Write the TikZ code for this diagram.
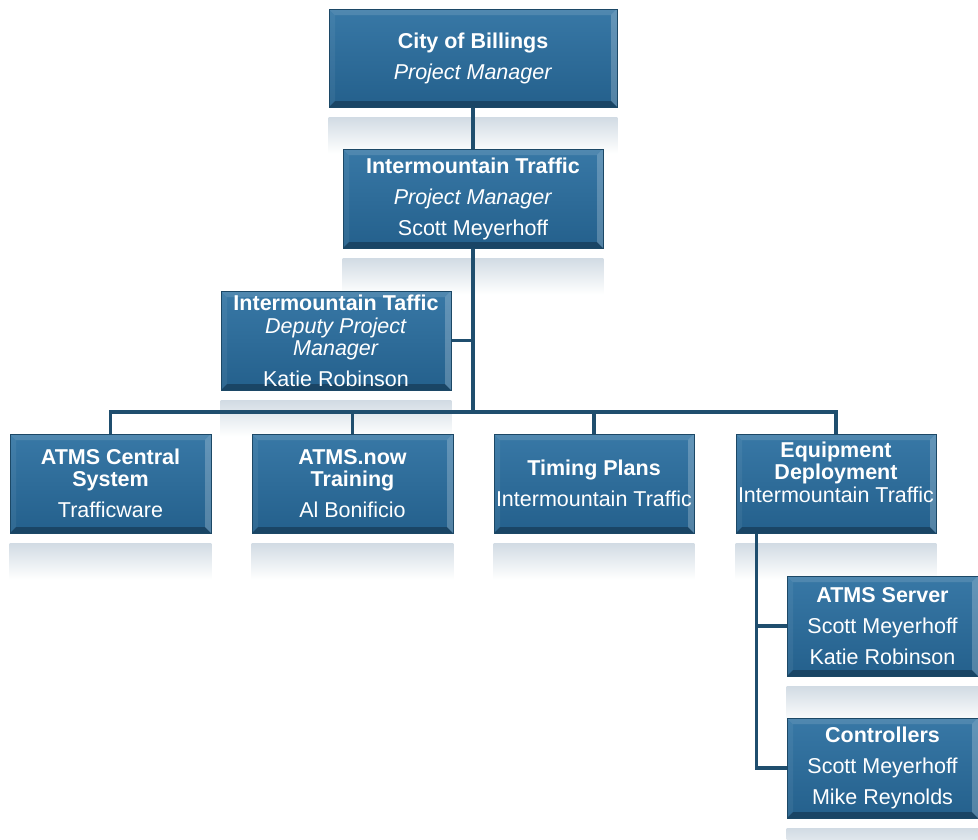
\documentclass[tikz,border=0pt]{standalone}
\usepackage{fontspec}
\setmainfont{Liberation Sans}
\usetikzlibrary{calc}
\definecolor{boxtop}{HTML}{3878A6}
\definecolor{boxbot}{HTML}{24608C}
\definecolor{boxedge}{HTML}{1C4866}
\definecolor{linec}{HTML}{1F4E6E}
\definecolor{refl}{HTML}{D2DBE4}
\pgfdeclarelayer{bg}
\pgfdeclarelayer{mid}
\pgfsetlayers{bg,mid,main}
\tikzset{
  orgbox/.style={draw=boxedge, line width=0.8pt, top color=boxtop, bottom color=boxbot,
    text=white, align=center, font=\fontsize{21.5}{23}\selectfont, inner sep=0pt,
    path picture={
      \coordinate (bvnw) at (path picture bounding box.north west);
      \coordinate (bvne) at (path picture bounding box.north east);
      \coordinate (bvsw) at (path picture bounding box.south west);
      \coordinate (bvse) at (path picture bounding box.south east);
      \fill[white, opacity=0.12] (bvnw) -- (bvne) -- ($(bvne)+(-6,6)$) -- ($(bvnw)+(6,6)$) -- cycle;
      \fill[white, opacity=0.06] (bvnw) -- ($(bvnw)+(6,6)$) -- ($(bvsw)+(6,-6)$) -- (bvsw) -- cycle;
      \fill[white, opacity=0.22] (bvne) -- ($(bvne)+(-6,6)$) -- ($(bvse)+(-6,-6)$) -- (bvse) -- cycle;
      \fill[black, opacity=0.28] (bvsw) -- ($(bvsw)+(6,-6)$) -- ($(bvse)+(-6,-6)$) -- (bvse) -- cycle;
    }},
  conn/.style={draw=linec, line width=3.2pt},
  reflbox/.style={top color=refl, bottom color=white, draw=none},
  boxtext/.style={text=white, align=center, font=\fontsize{21.5}{23}\selectfont, inner sep=0pt},
}
\newcommand{\mkrefl}[1]{%
  \begin{pgfonlayer}{bg}
    \fill[reflbox] ($(#1.south west)+(0,10)$) rectangle ($(#1.south east)+(0,46)$);
  \end{pgfonlayer}}
\begin{document}
\begin{tikzpicture}[x=1pt, y=-1pt]
\begin{pgfonlayer}{bg}
\fill[white] (0,0) rectangle (978,839);
\end{pgfonlayer}
\useasboundingbox (0,0) rectangle (978,839);

\node[orgbox, minimum width=288pt, minimum height=98pt] (city) at (473,58)
  {\textbf{City of Billings}\\[8pt]\textit{Project Manager}};
\node[orgbox, minimum width=260pt, minimum height=99pt] (it) at (473,198.5)
  {\textbf{Intermountain Traffic}\\[8pt]\textit{Project Manager}\\[8pt]Scott Meyerhoff};
\node[orgbox, minimum width=230pt, minimum height=99pt] (deputy) at (336,340.5)
  {\textbf{Intermountain Taffic}\\\textit{Deputy Project}\\[-1pt]\textit{Manager}\\[8pt]Katie Robinson};
\node[orgbox, minimum width=201pt, minimum height=99pt] (central) at (110.5,483.5)
  {\textbf{ATMS Central}\\[-1pt]\textbf{System}\\[8pt]Trafficware};
\node[orgbox, minimum width=201pt, minimum height=99pt] (now) at (352.5,483.5)
  {\textbf{ATMS.now}\\[-1pt]\textbf{Training}\\[8pt]Al Bonificio};
\node[orgbox, minimum width=200pt, minimum height=99pt] (timing) at (594,483.5)
  {\textbf{Timing Plans}\\[8pt]Intermountain Traffic};
\node[orgbox, minimum width=200pt, minimum height=99pt] (equip) at (836,483.5) {};
\node[boxtext] (equiptext) at (836,472.5)
  {\textbf{Equipment}\\[-1pt]\textbf{Deployment}\\Intermountain Traffic};
\node[orgbox, minimum width=191pt, minimum height=100pt] (server) at (882.5,626)
  {\textbf{ATMS Server}\\[8pt]Scott Meyerhoff\\[8pt]Katie Robinson};
\node[orgbox, minimum width=191pt, minimum height=100pt] (ctrl) at (882.5,768)
  {\textbf{Controllers}\\[8pt]Scott Meyerhoff\\[8pt]Mike Reynolds};

\mkrefl{city}\mkrefl{it}\mkrefl{deputy}\mkrefl{central}\mkrefl{now}
\mkrefl{timing}\mkrefl{equip}\mkrefl{server}\mkrefl{ctrl}

\coordinate (busy) at (0,412);
\coordinate (eqx) at ($(equip.south west)+(21,0)$);
\begin{pgfonlayer}{mid}
\draw[conn] (city.south) -- (it.north);
\draw[conn] (it.south) -- (it.south |- busy);
\draw[conn] (deputy.east) -- (deputy.east -| it.south);
\draw[conn, line cap=rect] (central.north |- busy) -- (equip.north |- busy);
\draw[conn] (central.north |- busy) -- (central.north);
\draw[conn] (now.north |- busy) -- (now.north);
\draw[conn] (timing.north |- busy) -- (timing.north);
\draw[conn] (equip.north |- busy) -- (equip.north);
\draw[conn] (eqx) |- (ctrl.west);
\draw[conn] (eqx |- server.west) -- (server.west);
\end{pgfonlayer}
\end{tikzpicture}
\end{document}
